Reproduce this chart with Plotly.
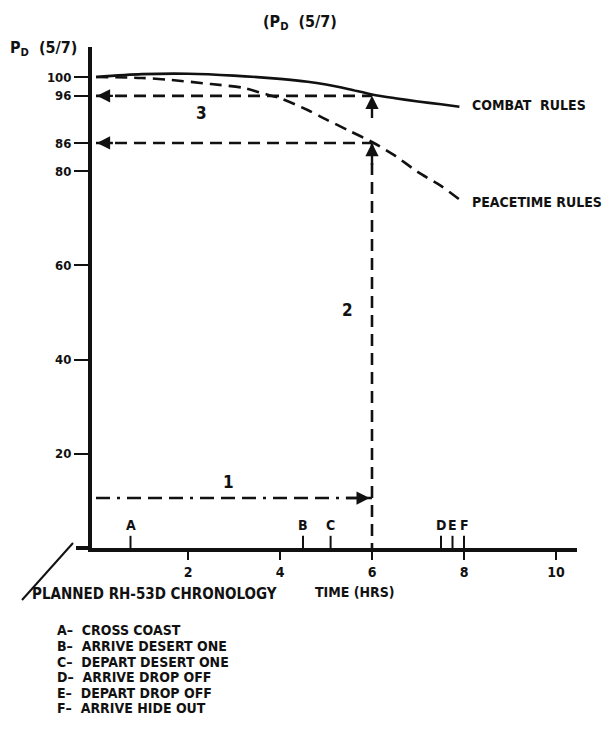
import plotly.graph_objects as go

# ---- data ----
time_combat = [0, 1, 2, 3, 4, 4.6, 5, 5.5, 6, 6.5, 7, 7.5, 7.9]
pd_combat = [100, 100.6, 100.7, 100.3, 99.6, 99.0, 98.4, 97.4, 96.3, 95.5, 94.8, 94.2, 93.7]

time_peace = [0, 1, 1.6, 2.5, 3.2, 3.6, 4, 4.6, 5, 5.5, 6, 6.5, 7, 7.5, 7.9]
pd_peace = [100, 99.8, 99.4, 98.5, 97.7, 96.6, 95.5, 93.0, 91.0, 88.6, 86.2, 83.3, 79.8, 76.9, 74.0]

decision_time = 6
pd_combat_at_decision = 96
pd_peace_at_decision = 86
time_line_level = 10.6

event_letters = ["A", "B", "C", "D", "E", "F"]
event_times = [0.75, 4.5, 5.1, 7.5, 7.75, 8.0]
event_desc = ["CROSS COAST", "ARRIVE DESERT ONE", "DEPART DESERT ONE",
              "ARRIVE DROP OFF", "DEPART DROP OFF", "ARRIVE HIDE OUT"]

y_ticks = [20, 40, 60, 80, 86, 96, 100]
x_ticks = [2, 4, 6, 8, 10]

# ---- layout geometry (pixels) ----
W, H = 605, 735
L, R, T, B = 92, 577, 47, 548
FONT = "DejaVu Sans Condensed, Liberation Sans Narrow, Roboto, sans-serif"
INK = "#111111"
DASH = "12px,7px"


def px(x):
    return (x - L) / (R - L)


def py(y):
    return (B - y) / (B - T)


fig = go.Figure()

fig.add_trace(go.Scatter(x=time_combat, y=pd_combat, mode="lines",
                         line=dict(color=INK, width=2.6, shape="spline", smoothing=0.8),
                         hoverinfo="skip", name="COMBAT RULES"))
fig.add_trace(go.Scatter(x=time_peace, y=pd_peace, mode="lines",
                         line=dict(color=INK, width=2.6, dash=DASH, shape="spline", smoothing=0.8),
                         hoverinfo="skip", name="PEACETIME RULES"))
# reference dashed lines
fig.add_trace(go.Scatter(x=[0, decision_time], y=[pd_combat_at_decision] * 2, mode="lines",
                         line=dict(color=INK, width=2.6, dash=DASH), hoverinfo="skip"))
fig.add_trace(go.Scatter(x=[0, decision_time], y=[pd_peace_at_decision] * 2, mode="lines",
                         line=dict(color=INK, width=2.6, dash=DASH), hoverinfo="skip"))
fig.add_trace(go.Scatter(x=[decision_time, decision_time], y=[-1.5, pd_peace_at_decision],
                         mode="lines", line=dict(color=INK, width=2.6, dash=DASH), hoverinfo="skip"))
fig.add_trace(go.Scatter(x=[0, decision_time], y=[time_line_level] * 2, mode="lines",
                         line=dict(color=INK, width=2.6, dash="14px,7px,3px,7px,14px,7px,14px,7px"),
                         hoverinfo="skip"))
# event ticks
fig.add_trace(go.Scatter(x=event_times, y=[1.1] * len(event_times), mode="markers",
                         marker=dict(symbol="line-ns", size=10, line=dict(color=INK, width=2)),
                         hoverinfo="skip"))

ann = []
arrow_common = dict(text="", showarrow=True, arrowhead=2, arrowsize=1.1, arrowwidth=2.4,
                    arrowcolor=INK, xref="x", yref="y", axref="x", ayref="y", standoff=0)
ann.append(dict(x=0.02, y=pd_combat_at_decision, ax=0.4, ay=pd_combat_at_decision, **arrow_common))
ann.append(dict(x=0.02, y=pd_peace_at_decision, ax=0.4, ay=pd_peace_at_decision, **arrow_common))
ann.append(dict(x=decision_time, y=pd_peace_at_decision, ax=decision_time, ay=pd_peace_at_decision - 5, **arrow_common))
ann.append(dict(x=decision_time, y=pd_combat_at_decision, ax=decision_time, ay=pd_combat_at_decision - 5, **arrow_common))
ann.append(dict(x=decision_time - 0.05, y=time_line_level, ax=decision_time - 0.6, ay=time_line_level, **arrow_common))

txt = dict(showarrow=False, font=dict(family=FONT, size=14, color=INK, weight="bold"))
for letter, t in zip(event_letters, event_times):
    ann.append(dict(x=t, y=4.9, xref="x", yref="y", text=letter, xanchor="center", yanchor="middle", **txt))

ann.append(dict(x=8.13, y=94.0, xref="x", yref="y", text="COMBAT  RULES", xanchor="left", yanchor="middle", **txt))
ann.append(dict(x=8.13, y=73.5, xref="x", yref="y", text="PEACETIME RULES", xanchor="left", yanchor="middle", **txt))

big = dict(showarrow=False, font=dict(family=FONT, size=17, color=INK, weight="bold"))
ann.append(dict(x=2.87, y=14, xref="x", yref="y", text="1", xanchor="center", yanchor="middle", **big))
ann.append(dict(x=5.46, y=50.5, xref="x", yref="y", text="2", xanchor="center", yanchor="middle", **big))
ann.append(dict(x=2.3, y=92.4, xref="x", yref="y", text="3", xanchor="center", yanchor="middle", **big))

ann.append(dict(x=px(300), y=py(22), xref="paper", yref="paper", text="(P<sub>D</sub>  (5/7)",
                xanchor="center", yanchor="middle",
                showarrow=False, font=dict(family=FONT, size=16, color=INK, weight="bold")))
ann.append(dict(x=px(8), y=py(48), xref="paper", yref="paper", text="P<sub>D</sub>  (5/7)",
                xanchor="left", yanchor="middle",
                showarrow=False, font=dict(family=FONT, size=16, color=INK, weight="bold")))
ann.append(dict(x=px(355), y=py(592), xref="paper", yref="paper", text="TIME (HRS)",
                xanchor="center", yanchor="middle", **txt))
ann.append(dict(x=px(30), y=py(594), xref="paper", yref="paper", text="PLANNED RH-53D CHRONOLOGY",
                xanchor="left", yanchor="middle",
                showarrow=False, font=dict(family=FONT, size=15, color=INK, weight="bold")))
legend_y = [630, 646, 662, 677, 693, 708]
for letter, desc, yy in zip(event_letters, event_desc, legend_y):
    ann.append(dict(x=px(55), y=py(yy), xref="paper", yref="paper", text=f"{letter}\u2013  {desc}",
                    xanchor="left", yanchor="middle", **txt))

shapes = [
    dict(type="line", xref="paper", yref="paper", x0=px(76), y0=0, x1=px(92), y1=0,
         line=dict(color=INK, width=4)),
    dict(type="line", xref="paper", yref="paper", x0=px(73), y0=py(543), x1=px(22), y1=py(600),
         line=dict(color=INK, width=2)),
]

fig.update_layout(
    width=W, height=H,
    margin=dict(l=L, r=W - R, t=T, b=H - B),
    paper_bgcolor="white", plot_bgcolor="white",
    showlegend=False,
    annotations=ann, shapes=shapes,
    xaxis=dict(range=[(L - 96) / 46, (R - 96) / 46], tickvals=x_ticks, ticktext=[str(v) for v in x_ticks],
               ticks="outside", ticklen=8, tickwidth=2, tickcolor=INK,
               showline=True, linewidth=4, linecolor=INK, showgrid=False, zeroline=False,
               tickfont=dict(family=FONT, size=14, color=INK, weight="bold")),
    yaxis=dict(range=[0, (B - T) / 4.71], tickvals=y_ticks, ticktext=[str(v) for v in y_ticks],
               ticks="outside", ticklen=14, tickwidth=2, tickcolor=INK,
               showline=True, linewidth=4, linecolor=INK, showgrid=False, zeroline=False,
               tickfont=dict(family=FONT, size=13, color=INK, weight="bold")),
)

fig.write_html("out.html", config={"displayModeBar": False},
               post_script="document.body.style.margin='0';document.body.style.overflow='hidden';")
